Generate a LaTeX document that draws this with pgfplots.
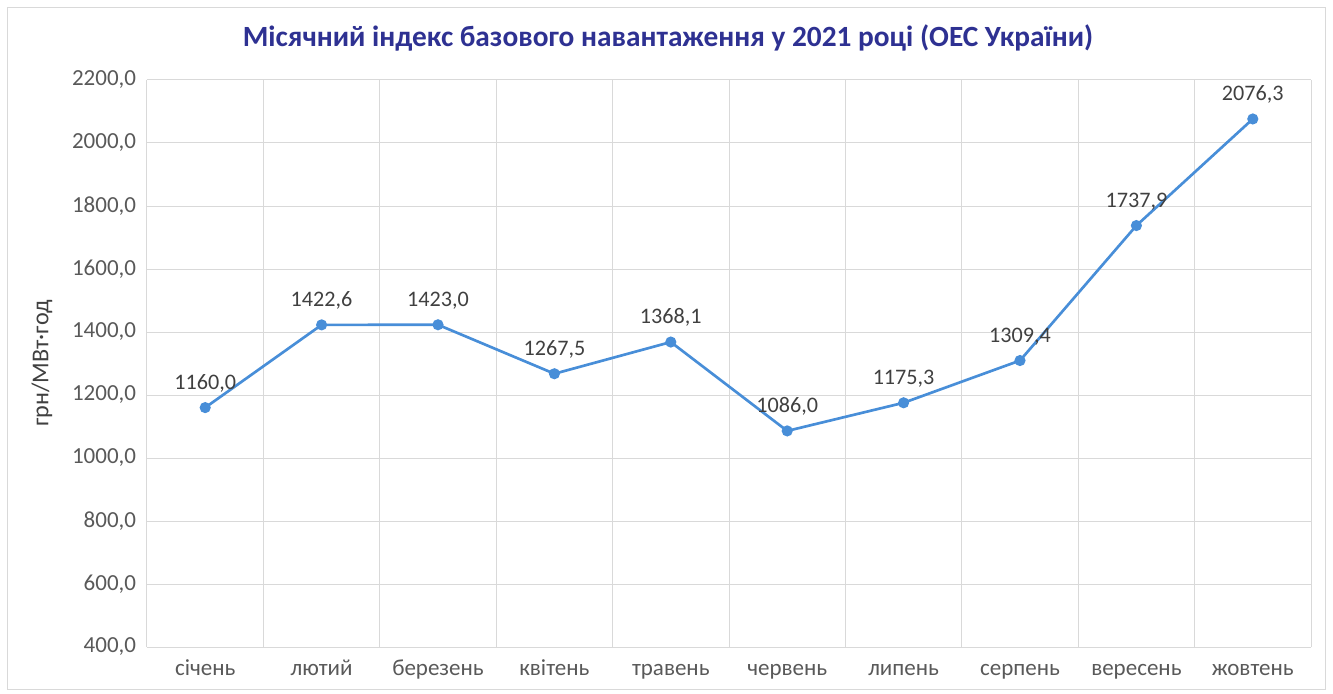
\documentclass[border=0pt]{standalone}
\usepackage{pgfplots}
\pgfplotsset{compat=1.18}
\usepackage{fontspec}
\setmainfont{Carlito}
\definecolor{titleblue}{RGB}{46,49,146}
\definecolor{lineblue}{RGB}{72,142,216}
\definecolor{ticktext}{RGB}{89,89,89}
\definecolor{labeltext}{RGB}{64,64,64}
\definecolor{gridgray}{RGB}{217,217,217}
\begin{document}
\begin{tikzpicture}
% 1 px of the reference = 0.6pt; origin at the plot area's lower left corner
\useasboundingbox (-88.2pt,-27.6pt) rectangle (711.6pt,388.2pt);
\draw[gridgray, line width=0.6pt] (-83.4pt,-25.2pt) rectangle (706.8pt,383.4pt);
\node[font=\bfseries\fontsize{17.6}{20}\selectfont, text=titleblue] at (312.6pt,365.4pt)
  {Місячний індекс базового навантаження у 2021 році (ОЕС України)};
\begin{axis}[
    at={(0,0)}, anchor=south west,
    scale only axis,
    width=698.4pt, height=340.2pt,
    xmin=-0.5, xmax=9.5,
    ymin=400, ymax=2200,
    ytick={400,600,...,2200},
    xtick={0,...,9},
    xticklabels={січень,лютий,березень,квітень,травень,червень,липень,серпень,вересень,жовтень},
    minor xtick={-0.5,0.5,...,9.5},
    xmajorgrids=false,
    xminorgrids=true,
    ymajorgrids=true,
    grid style={gridgray, line width=0.6pt},
    minor grid style={gridgray, line width=0.6pt},
    axis line style={gridgray, line width=0.6pt},
    axis x line*=bottom,
    axis y line*=left,
    y axis line style={draw=none},
    major tick length=0pt, minor tick length=0pt,
    tick style={draw=none},
    /pgf/number format/assume math mode=true,
    ticklabel style={font=\fontsize{13.8}{16}\selectfont, text=ticktext},
    y tick label style={/pgf/number format/fixed, /pgf/number format/fixed zerofill,
        /pgf/number format/precision=1, /pgf/number format/use comma,
        /pgf/number format/1000 sep={}, xshift=-3pt},
    xticklabel style={text height=1.6ex, text depth=0.4ex, yshift=-6pt},
    ylabel={грн/МВт·год},
    ylabel style={font=\fontsize{14.5}{16}\selectfont, text=labeltext, yshift=5pt},
    nodes near coords={\pgfmathprintnumber[fixed,fixed zerofill,precision=1,use comma,1000 sep={}]{\pgfplotspointmeta}},
    nodes near coords style={font=\fontsize{13.3}{15}\selectfont, text=labeltext, anchor=south, yshift=5pt},
    clip=false,
]
\addplot[color=lineblue, line width=1.6pt, mark=*, mark size=2.5pt, mark options={fill=lineblue, draw=lineblue}]
coordinates {
    (0,1160.0) (1,1422.6) (2,1423.0) (3,1267.5) (4,1368.1)
    (5,1086.0) (6,1175.3) (7,1309.4) (8,1737.9) (9,2076.3)
};
\end{axis}
\end{tikzpicture}
\end{document}
